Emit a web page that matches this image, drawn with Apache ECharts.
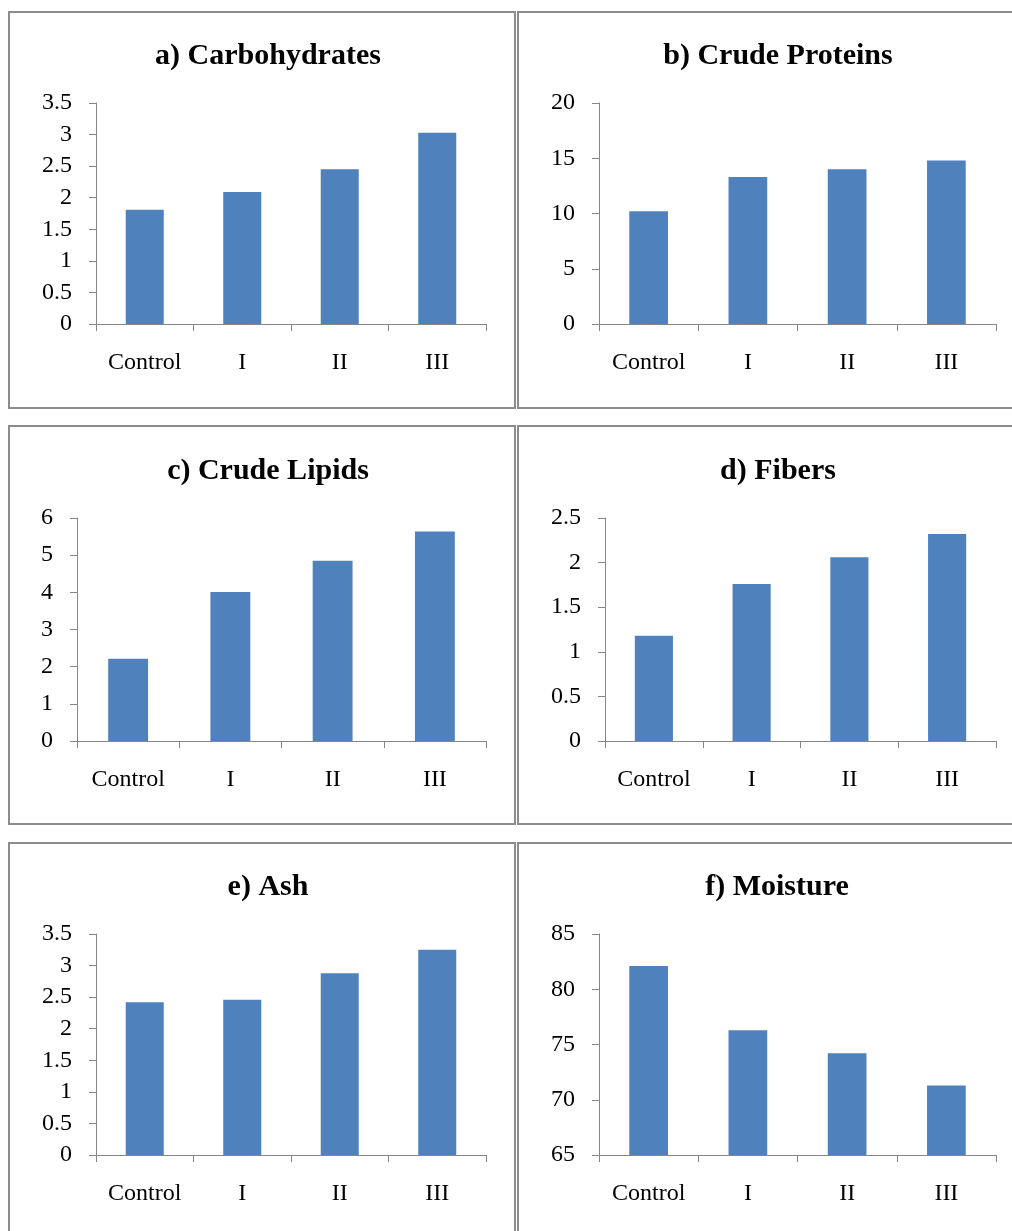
<!DOCTYPE html>
<html>
<head>
<meta charset="utf-8">
<script src="https://cdn.jsdelivr.net/npm/echarts@6/dist/echarts.min.js"></script>
<style>
html,body{margin:0;padding:0;background:#fff;overflow:hidden;}
#chart{width:1012px;height:1231px;}
</style>
</head>
<body>
<div id="chart"></div>
<script>
// ---- data ----
const categories = ['Control', 'I', 'II', 'III'];
const titles = ['a) Carbohydrates', 'b) Crude Proteins', 'c) Crude Lipids', 'd) Fibers', 'e) Ash', 'f) Moisture'];
const carbohydrates = [1.81, 2.09, 2.45, 3.03];
const crudeProteins = [10.2, 13.3, 14.0, 14.8];
const crudeLipids = [2.21, 4.01, 4.85, 5.64];
const fibers = [1.18, 1.76, 2.06, 2.32];
const ash = [2.42, 2.46, 2.88, 3.25];
const moisture = [82.1, 76.3, 74.2, 71.3];
const yMin = [0, 0, 0, 0, 0, 65];
const yMax = [3.5, 20, 6, 2.5, 3.5, 85];
const yInterval = [0.5, 5, 1, 0.5, 0.5, 5];

const seriesData = [carbohydrates, crudeProteins, crudeLipids, fibers, ash, moisture];

// ---- layout (pixels) ----
const grids = [
  {left: 96, top: 103, width: 390, height: 221},
  {left: 599, top: 103, width: 397, height: 221},
  {left: 77, top: 518, width: 409, height: 223},
  {left: 605, top: 518, width: 391, height: 223},
  {left: 96, top: 934, width: 390, height: 221},
  {left: 599, top: 934, width: 397, height: 221}
];
const titleCenters = [[263, 36], [773, 36], [263, 451], [773, 451], [263, 867], [772, 867]];
const panels = [
  {x: 9, y: 12, w: 506, h: 396},
  {x: 518, y: 12, w: 520, h: 396},
  {x: 9, y: 426, w: 506, h: 398},
  {x: 518, y: 426, w: 520, h: 398},
  {x: 9, y: 843, w: 506, h: 420},
  {x: 518, y: 843, w: 520, h: 420}
];

const axisColor = '#868686';
const font = '"Liberation Serif", "Times New Roman", serif';

const option = {
  animation: false,
  backgroundColor: '#ffffff',
  title: titles.map((t, i) => ({
    text: t,
    left: titleCenters[i][0],
    top: titleCenters[i][1],
    textAlign: 'center',
    textStyle: {fontFamily: font, fontWeight: 'bold', fontSize: 30, color: '#000'}
  })),
  graphic: panels.map(p => ({
    type: 'rect', shape: {x: p.x, y: p.y, width: p.w, height: p.h},
    style: {fill: 'none', stroke: '#8c8c8c', lineWidth: 2}, silent: true, z: 0
  })),
  grid: grids.map(g => Object.assign({containLabel: false}, g)),
  xAxis: grids.map((g, i) => ({
    type: 'category', gridIndex: i, data: categories,
    axisLine: {show: true, lineStyle: {color: axisColor, width: 1}},
    axisTick: {show: true, alignWithLabel: false, length: 7, lineStyle: {color: axisColor}},
    axisLabel: {fontFamily: font, fontSize: 24, color: '#000', margin: 27, interval: 0},
    splitLine: {show: false}
  })),
  yAxis: grids.map((g, i) => ({
    type: 'value', gridIndex: i, min: yMin[i], max: yMax[i], interval: yInterval[i],
    axisLine: {show: true, onZero: false, lineStyle: {color: axisColor, width: 1}},
    axisTick: {show: true, length: 7, lineStyle: {color: axisColor}},
    axisLabel: {fontFamily: font, fontSize: 24, color: '#000', margin: 24},
    splitLine: {show: false}
  })),
  series: seriesData.map((d, i) => ({
    type: 'bar', xAxisIndex: i, yAxisIndex: i, data: d,
    barWidth: '39%', clip: true,
    itemStyle: {color: '#4f81bd'}
  }))
};

const chart = echarts.init(document.getElementById('chart'), null, {renderer: 'canvas'});
chart.setOption(option);
</script>
</body>
</html>
